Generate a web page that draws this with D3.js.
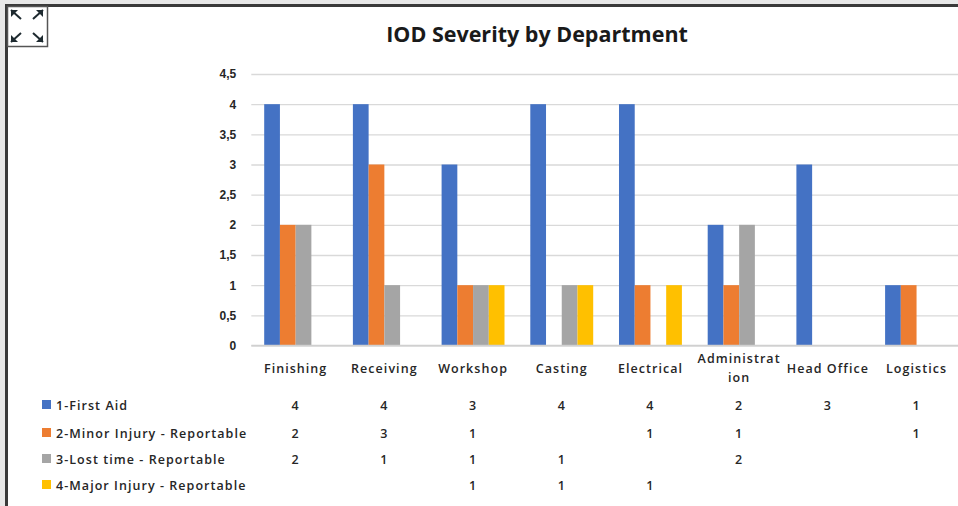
<!DOCTYPE html>
<html lang="en">
  <head>
    <meta charset="UTF-8">
    <title>IOD Severity by Department</title>
    <script src="https://cdn.jsdelivr.net/npm/d3@7"></script>
    <style>
      html, body {
        margin: 0;
        padding: 0;
        background: #e8e8e8;
      }
      svg {
        display: block;
        font-family: 'Open Sans', sans-serif;
      }
      .tick-label {
        fill: #262626;
        font-size: 12px;
        font-weight: 700;
      }
      .cat-label, .table-text {
        fill: #262626;
        font-size: 12.5px;
        font-weight: 600;
        letter-spacing: 1.05px;
      }
    </style>
  </head>
  <body>
    <script>
      // chart values
      const departments = ["Finishing", "Receiving", "Workshop", "Casting", "Electrical", "Administration", "Head Office", "Logistics"];
      const departmentLines = [["Finishing"], ["Receiving"], ["Workshop"], ["Casting"], ["Electrical"], ["Administrat", "ion"], ["Head Office"], ["Logistics"]];
      const seriesNames = ["1-First Aid", "2-Minor Injury - Reportable", "3-Lost time - Reportable", "4-Major Injury - Reportable"];
      const firstAid = [4, 4, 3, 4, 4, 2, 3, 1];
      const minorInjury = [2, 3, 1, null, 1, 1, null, 1];
      const lostTime = [2, 1, 1, 1, null, 2, null, null];
      const majorInjury = [null, null, 1, 1, 1, null, null, null];
      const yTicks = [0, 0.5, 1, 1.5, 2, 2.5, 3, 3.5, 4, 4.5];
      const colors = ["#4472c4", "#ed7d31", "#a5a5a5", "#ffc000"];

      const seriesValues = [firstAid, minorInjury, lostTime, majorInjury];

      const W = 958, H = 506;
      const plotLeft = 251.3, plotTop = 74, plotBottom = 345.5;

      const svg = d3.select("body").append("svg")
        .attr("width", W)
        .attr("height", H);

      // chart area with frame
      svg.append("rect")
        .attr("x", 6.5).attr("y", 5.5)
        .attr("width", W).attr("height", H)
        .attr("fill", "#fff")
        .attr("stroke", "#3a3a3a")
        .attr("stroke-width", 3);

      // expand icon in the corner
      const icon = svg.append("g").attr("transform", "translate(7,6)");
      icon.append("rect")
        .attr("x", 0.5).attr("y", 0.5)
        .attr("width", 40).attr("height", 40)
        .attr("fill", "#fff")
        .attr("stroke", "#555")
        .attr("stroke-width", 1.5);
      const corners = [[4, 4], [36, 4], [4, 36], [36, 36]];
      corners.forEach(c => {
        const sx = c[0] < 20 ? 1 : -1, sy = c[1] < 20 ? 1 : -1;
        icon.append("line")
          .attr("x1", c[0]).attr("y1", c[1])
          .attr("x2", c[0] + sx * 10).attr("y2", c[1] + sy * 9)
          .attr("stroke", "#1e2a30").attr("stroke-width", 2);
        icon.append("path")
          .attr("d", `M${c[0]},${c[1]} l${sx * 7},0 l${-sx * 7},${sy * 7} z`)
          .attr("fill", "#1e2a30");
      });

      // title
      svg.append("text")
        .attr("x", 537).attr("y", 42)
        .attr("text-anchor", "middle")
        .attr("font-size", 21.5)
        .attr("font-weight", 700)
        .attr("fill", "#1a1a1a")
        .text("IOD Severity by Department");

      // scales
      const x0 = d3.scaleBand()
        .domain(departments)
        .range([plotLeft, plotLeft + 88.7 * departments.length])
        .paddingInner(0).paddingOuter(0);
      const x1 = d3.scaleBand()
        .domain(d3.range(seriesNames.length))
        .range([0, x0.bandwidth()])
        .paddingInner(0).paddingOuter(0.82);
      const y = d3.scaleLinear()
        .domain([0, 4.5])
        .range([plotBottom, plotTop]);

      // gridlines and y axis
      const yAxis = d3.axisLeft(y)
        .tickValues(yTicks)
        .tickSize(-(W - plotLeft))
        .tickPadding(15)
        .tickFormat(d => String(d).replace(".", ","));
      const gy = svg.append("g")
        .attr("transform", `translate(${plotLeft},0)`)
        .call(yAxis);
      gy.select(".domain").remove();
      gy.selectAll(".tick line")
        .attr("stroke", "#d9d9d9")
        .attr("stroke-width", 1.4);
      gy.selectAll(".tick text")
        .attr("class", "tick-label")
        .attr("font-family", null)
        .attr("font-size", null);

      // bars
      const groups = svg.append("g").selectAll("g")
        .data(departments)
        .join("g")
        .attr("transform", d => `translate(${x0(d)},0)`);
      groups.selectAll("rect")
        .data((d, i) => seriesValues.map((vals, s) => ({ s, v: vals[i] })).filter(e => e.v != null))
        .join("rect")
        .attr("x", d => x1(d.s))
        .attr("y", d => y(d.v))
        .attr("width", x1.bandwidth())
        .attr("height", d => y(0) - y(d.v))
        .attr("fill", d => colors[d.s]);

      // zero line on top of bars
      svg.append("line")
        .attr("x1", plotLeft).attr("x2", W)
        .attr("y1", y(0)).attr("y2", y(0))
        .attr("stroke", "#d0d0d0")
        .attr("stroke-width", 1.4);

      // category labels
      const catLabels = svg.append("g").selectAll("text")
        .data(departments)
        .join("text")
        .attr("class", "cat-label")
        .attr("text-anchor", "middle")
        .attr("x", d => x0(d) + x0.bandwidth() / 2)
        .attr("y", (d, i) => departmentLines[i].length > 1 ? 363 : 373);
      catLabels.selectAll("tspan")
        .data((d, i) => departmentLines[i])
        .join("tspan")
        .attr("x", function () { return this.parentNode.getAttribute("x"); })
        .attr("dy", (d, i) => i === 0 ? 0 : 19)
        .text(d => d);

      // data table
      const rowY = [405, 433, 459, 485];
      const table = svg.append("g");
      seriesNames.forEach((name, s) => {
        table.append("rect")
          .attr("x", 42).attr("y", rowY[s] - 5)
          .attr("width", 9).attr("height", 9)
          .attr("fill", colors[s]);
        table.append("text")
          .attr("class", "table-text")
          .attr("x", 56).attr("y", rowY[s] + 4.5)
          .text(name);
        table.selectAll(null)
          .data(seriesValues[s].map((v, i) => ({ v, d: departments[i] })).filter(e => e.v != null))
          .join("text")
          .attr("class", "table-text")
          .attr("text-anchor", "middle")
          .attr("x", e => x0(e.d) + x0.bandwidth() / 2)
          .attr("y", rowY[s] + 4.5)
          .text(e => e.v);
      });
    </script>
  </body>
</html>
